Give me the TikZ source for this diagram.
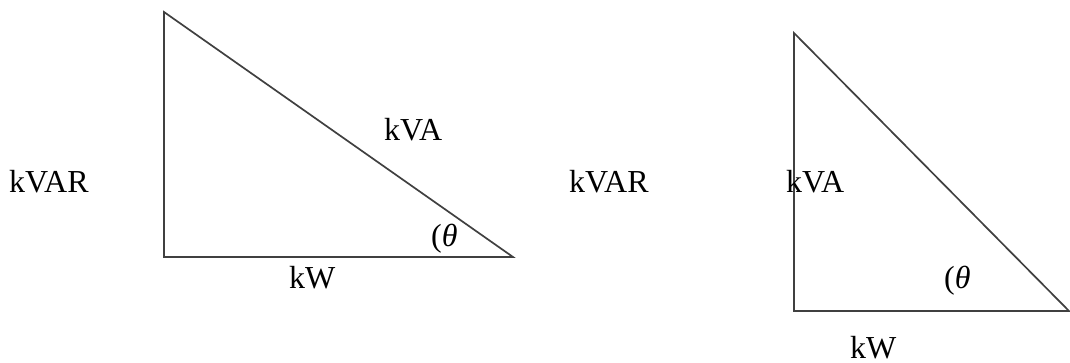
\documentclass[tikz,border=0pt]{standalone}
\usepackage{fontspec}
\setmainfont{Liberation Serif}
\begin{document}
\begin{tikzpicture}[x=1pt,y=-1pt,
  side/.style={draw=black!75, line width=1.7pt, line join=miter},
  lbl/.style={anchor=base west, inner sep=0pt, font=\fontsize{32}{38}\selectfont}]
\useasboundingbox (0,0) rectangle (1070,363);
% left triangle
\coordinate (A1) at (164,12);
\coordinate (B1) at (164,257);
\coordinate (C1) at (513,257);
\draw[side] (A1) -- (B1) -- (C1) -- cycle;
\node[lbl] (kvar1) at (9,193) {kVAR};
\node[lbl] (kva1) at (384,141) {kVA};
\node[lbl] (kw1) at (289,288) {kW};
\node[lbl] (th1) at (431,247) {(\textit{θ}};
% right triangle
\coordinate (A2) at (794,33);
\coordinate (B2) at (794,311);
\coordinate (C2) at (1069,311);
\draw[side] (A2) -- (B2) -- (C2) -- cycle;
\node[lbl] (kvar2) at (569,193) {kVAR};
\node[lbl] (kva2) at (786,193) {kVA};
\node[lbl] (kw2) at (850,358) {kW};
\node[lbl] (th2) at (944,288) {(\textit{θ}};
\end{tikzpicture}
\end{document}
